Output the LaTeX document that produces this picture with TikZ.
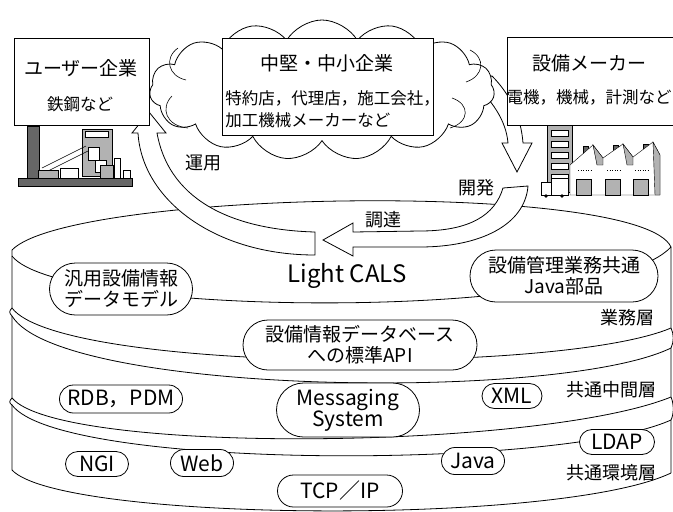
\documentclass[tikz,border=0pt]{standalone}
\usepackage{fontspec}
\setmainfont{Noto Sans CJK JP}
\usetikzlibrary{shapes.misc,shapes.symbols}

\newcommand\fsz[2]{\fontsize{#1}{#2}\selectfont}

\begin{document}
\begin{tikzpicture}[x=1pt, y=-1pt, line width=0.8pt,
  party/.style  = {draw, fill=white},
  head/.style   = {font=\fsz{19}{21}, inner sep=1pt},
  body/.style   = {font=\fsz{16.5}{22}, inner sep=1pt},
  part/.style   = {rounded rectangle, draw, fill=white, inner sep=0pt,
                   align=center, font=\fsz{19}{21}},
  latin/.style  = {font=\fsz{21}{21}},
  tier/.style   = {font=\fsz{18}{20}, inner sep=1pt},
  band/.style   = {draw, fill=white, line join=miter},
  flow/.style   = {font=\fsz{18}{20}, inner sep=1pt},
  dark/.style   = {draw, fill=black!60, line width=0.4pt},
  mid/.style    = {draw, fill=black!30, line width=0.4pt},
  lite/.style   = {draw, fill=white, line width=0.4pt},
]
  \useasboundingbox (0,0) rectangle (673,512);

  % stack of three tiers, y runs down in px
  \draw (12,250) .. controls (70,190) and (640,180) .. (671,247);
  \draw (12,256) .. controls (60,318) and (600,322) .. (671,247);
  % left and right rims, with a small kink where two tiers meet
  \draw (12,250) -- (12,308) .. controls (9,311) and (9,313) .. (12,316) -- (12,398)
    .. controls (9,401) and (9,403) .. (12,405) -- (12,470);
  \draw (671,247) -- (671,328) .. controls (674,334) and (674,342) .. (671,348) -- (671,397)
    .. controls (674,404) and (674,414) .. (671,420) -- (671,473);
  % front edges
  \draw (12,308) .. controls (60,372) and (560,375) .. (671,328);
  \draw (12,316) .. controls (60,395) and (560,402) .. (671,348);
  \draw (12,398) .. controls (60,455) and (540,450) .. (671,397);
  \draw (12,405) .. controls (60,470) and (560,470) .. (671,420);
  \draw (12,470) .. controls (60,522) and (560,526) .. (671,473);

  % parts sitting on the tiers
  \node[part, minimum width=143pt, minimum height=52pt] (model) at (121,289) {汎用設備情報\\データモデル};
  \node[part, minimum width=188pt, minimum height=52pt] (javaparts) at (564,276) {設備管理業務共通\\Java部品};
  \node[part, minimum width=234pt, minimum height=50pt] (api) at (360,345) {設備情報データベース\\への標準API};
  \node[part, latin, minimum width=123pt, minimum height=28pt] (rdb) at (121,399) {RDB，PDM};
  \node[part, latin, minimum width=143pt, minimum height=54pt] (msg) at (348,410) {Messaging\\System};
  \node[part, latin, minimum width=60pt, minimum height=25pt] (xml) at (512,396) {XML};
  \node[part, latin, minimum width=75pt, minimum height=25pt] (ldap) at (617,442) {LDAP};
  \node[part, latin, minimum width=63pt, minimum height=27pt] (java) at (473,461) {Java};
  \node[part, latin, minimum width=63pt, minimum height=25pt] (ngi) at (97,464) {NGI};
  \node[part, latin, minimum width=63pt, minimum height=27pt] (web) at (202,463) {Web};
  \node[part, latin, minimum width=125pt, minimum height=32pt] (tcp) at (340,491) {TCP／IP};

  \node[font=\fsz{24}{26}] (cals) at (347,276) {Light CALS};
  \node[tier] (biz) at (627,318) {業務層};
  \node[tier] (common) at (611,390) {共通中間層};
  \node[tier] (env) at (611,473) {共通環境層};

  % develop: out of the cloud, down to the maker side
  \draw[band] (470,80) .. controls (492,100) and (506,120) .. (508,143) -- (502,143)
    -- (517,172) -- (532,143) -- (523,143) .. controls (521,115) and (508,92) .. (492,76) -- cycle;

  % procure: round into the stack
  \draw[band] (503,188) .. controls (495,215) and (470,231) .. (420,231) -- (353,232)
    -- (353,223) -- (323,240) -- (353,256) -- (353,247) -- (420,247)
    .. controls (480,247) and (525,225) .. (528,186) -- cycle;

  % middle companies
  \node[cloud, draw, fill=white, cloud puffs=15, cloud puff arc=120, aspect=2.5,
        minimum width=345pt, minimum height=140pt] (net) at (322,90) {};
  \draw[line width=0.6pt] (178,48) .. controls (164,58) and (168,76) .. (186,80);
  \draw[line width=0.6pt] (172,96) .. controls (160,108) and (166,126) .. (188,128);
  \draw[line width=0.6pt] (470,50) .. controls (486,58) and (484,76) .. (466,82);
  \draw[line width=0.6pt] (452,98) .. controls (470,104) and (470,122) .. (450,128);

  % operate: back up to the user
  \draw[band] (315,232) .. controls (240,230) and (170,205) .. (157,133) -- (166,133)
    -- (149,112) -- (132,133) -- (138,133) .. controls (142,200) and (215,255) .. (315,255) -- cycle;

  \node[flow] (use) at (203,163) {運用};
  \node[flow] (dev) at (476,188) {開発};
  \node[flow] (buy) at (383,220) {調達};

  % the three parties
  \node[party, minimum width=135pt, minimum height=87pt] (user) at (81.5,81.5) {};
  \node[party, minimum width=211pt, minimum height=97pt] (sme) at (327.5,86.5) {};
  \node[party, minimum width=175pt, minimum height=88pt] (maker) at (594.5,81) {};

  \node[head] (user-t) at (81,68) {ユーザー企業};
  \node[body] (user-b) at (80,104) {鉄鋼など};
  \node[head] (sme-t) at (327,63) {中堅・中小企業};
  \node[body, align=left, anchor=west] (sme-b) at (224,109) {特約店，代理店，施工会社，\\加工機械メーカーなど};
  \node[head] (maker-t) at (589,63) {設備メーカー};
  \node[body] (maker-b) at (589,97) {電機，機械，計測など};

  % steel works
  \path[dark] (27,126) rectangle (39,178);
  \path[mid] (82,129) rectangle (112,176);
  \path[lite] (85,131) rectangle (108,137);
  \path[lite] (88,147) rectangle (99,160);
  \path[lite] (95,160) rectangle (106,172);
  \draw[line width=0.5pt] (42,168) -- (86,146) (44,173) -- (88,151);
  \path[mid] (38,170) rectangle (58,178);
  \path[lite] (60,168) rectangle (78,178);
  \path[mid] (100,165) rectangle (113,178);
  \path[lite] (114,158) rectangle (120,180);
  \path[lite] (123,170) rectangle (130,181);
  \path[dark] (18,178) rectangle (132,186);

  % maker's plant
  \path[mid] (547,125) rectangle (572,192);
  \foreach \y in {130,141,152,163,174}
    \path[lite] (551,\y) rectangle (568,{\y+6});
  \path[dark] (583,146) rectangle (588,156);
  \path[dark] (613,145) rectangle (618,155);
  \path[dark] (643,144) rectangle (648,154);
  \path[lite] (570,195) -- (570,165) -- (593,145) -- (603,158) -- (623,144) -- (633,157)
    -- (653,142) -- (660,155) -- (660,195) -- cycle;
  \path[mid] (593,145) -- (603,158) -- (603,165) -- (597,165) -- cycle;
  \path[mid] (623,144) -- (633,157) -- (633,165) -- (627,165) -- cycle;
  \path[mid] (653,142) -- (660,155) -- (660,195) -- (655,195) -- cycle;
  \foreach \x in {578,607,635}
    \draw[line width=0.5pt, dotted] (\x,170) -- ++(14,0);
  \foreach \x in {576,605,633}
    \path[mid] (\x,179) rectangle ++(15,16);
  \path[lite] (541,182) rectangle (551,195);
  \path[lite] (551,178) rectangle (568,195);
  \fill (546,196) circle (1.8pt) (562,196) circle (1.8pt);
\end{tikzpicture}
\end{document}
